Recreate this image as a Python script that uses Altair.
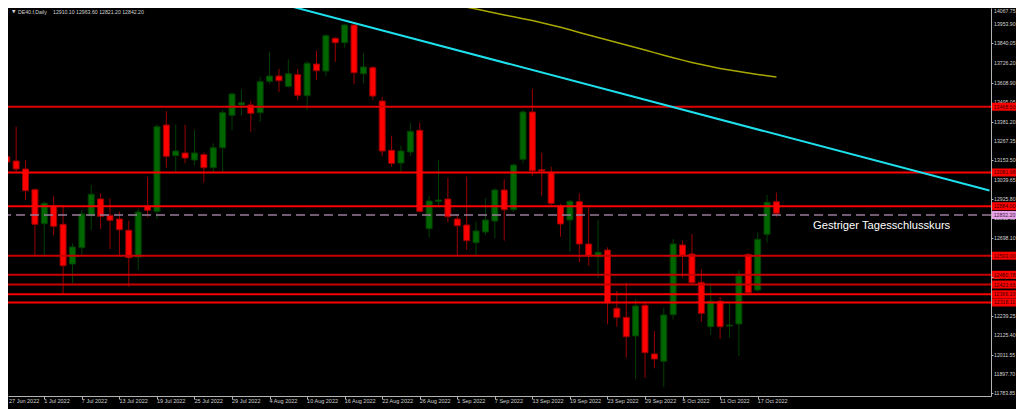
import altair as alt
import pandas as pd

# ---------------- data ----------------
date_labels = ["27 Jun 2022", "1 Jul 2022", "7 Jul 2022", "13 Jul 2022", "19 Jul 2022",
               "25 Jul 2022", "29 Jul 2022", "4 Aug 2022", "10 Aug 2022", "16 Aug 2022",
               "22 Aug 2022", "26 Aug 2022", "1 Sep 2022", "7 Sep 2022", "13 Sep 2022",
               "19 Sep 2022", "23 Sep 2022", "29 Sep 2022", "5 Oct 2022", "11 Oct 2022",
               "17 Oct 2022"]
date_label_idx = list(range(0, 81, 4))

opens = [13174.7, 13149.5, 13102.5, 12980.8, 12781.0, 12885.0, 12777.5, 12544.2, 12640.0, 12828.0,
         12926.2, 12830.4, 12808.7, 12742.3, 12585.4, 12883.3, 12853.9, 13361.0, 13180.6, 13196.5,
         13155.3, 13186.5, 13110.1, 13227.6, 13418.0, 13478.5, 13478.5, 13433.3, 13617.8, 13648.9,
         13588.4, 13656.6, 13533.2, 13719.4, 13678.3, 13870.4, 13844.6, 13948.6, 13662.4, 13697.7,
         13502.0, 13212.3, 13137.7, 13202.3, 13329.9, 12751.7, 12912.7, 12926.2, 12808.7, 12773.4,
         12669.4, 12732.3, 12796.9, 12979.1, 12863.3, 13159.5, 13437.4, 13098.4, 13080.7, 12885.0,
         12802.8, 12910.3, 12661.8, 12587.1, 12626.5, 12283.9, 12231.0, 12121.2, 12301.5, 12015.4,
         11972.5, 12246.3, 12655.9, 12603.0, 12436.7, 12175.8, 12325.1, 12179.9, 12191.7, 12601.2,
         12391.5, 12718.7, 12910.1]
highs = [13366.9, 13351.0, 13155.3, 12989.1, 12910.3, 12945.6, 12890.9, 12665.9, 12861.5, 13008.4,
         12959.7, 12930.3, 12851.5, 12798.7, 12869.2, 13055.4, 13366.9, 13443.3, 13362.8, 13362.8,
         13331.6, 13200.6, 13253.5, 13449.1, 13550.8, 13570.8, 13503.8, 13644.8, 13791.7, 13690.1,
         13747.1, 13690.1, 13737.1, 13797.6, 13894.0, 13876.3, 13954.5, 13962.1, 13782.3, 13707.7,
         13527.3, 13298.1, 13239.4, 13374.5, 13374.5, 12943.8, 13155.3, 13051.3, 12832.2, 13057.2,
         12792.8, 12930.3, 12989.1, 13041.9, 13135.9, 13449.1, 13572.5, 13198.2, 13116.0, 12896.8,
         12920.3, 12959.7, 12880.9, 12802.8, 12642.4, 12385.6, 12434.4, 12336.8, 12322.7, 12150.5,
         12287.5, 12691.1, 12681.2, 12720.5, 12514.9, 12426.7, 12350.3, 12313.3, 12509.0, 12607.1,
         12730.5, 12949.7, 12963.6]
lows = [13102.5, 13086.6, 12920.3, 12593.0, 12597.1, 12714.6, 12368.0, 12430.8, 12597.1, 12744.0,
        12749.9, 12632.4, 12597.1, 12410.9, 12509.0, 12818.6, 12808.7, 13110.1, 13086.6, 13135.9,
        13121.8, 13022.0, 13080.7, 13086.6, 13331.6, 13415.6, 13321.6, 13378.6, 13601.9, 13554.9,
        13580.2, 13507.9, 13449.1, 13625.4, 13649.0, 13731.2, 13815.2, 13601.9, 13606.0, 13507.9,
        13178.8, 13116.0, 13080.7, 13178.8, 12846.8, 12698.8, 12880.9, 12789.3, 12591.2, 12626.5,
        12591.2, 12714.6, 12695.3, 12681.2, 12851.6, 13135.9, 13063.1, 12945.6, 12890.9, 12704.6,
        12616.5, 12554.2, 12534.2, 12463.7, 12189.9, 12175.8, 11993.6, 11870.3, 11876.2, 11931.4,
        11819.7, 12219.3, 12466.1, 12420.8, 12203.4, 12127.0, 12103.5, 12111.2, 12003.6, 12362.1,
        12381.5, 12669.4, 12821.2]
closes = [13143.6, 13102.5, 12974.9, 12777.5, 12900.9, 12765.8, 12534.2, 12644.1, 12838.0, 12953.8,
          12824.5, 12801.0, 12745.8, 12581.3, 12849.8, 12859.8, 13351.0, 13177.1, 13208.2, 13167.1,
          13196.5, 13110.1, 13227.6, 13433.3, 13543.2, 13492.0, 13429.7, 13615.4, 13648.9, 13621.3,
          13662.4, 13535.5, 13723.5, 13680.1, 13885.7, 13844.6, 13948.6, 13668.3, 13701.8, 13531.4,
          13208.2, 13135.9, 13208.2, 13324.0, 12853.9, 12914.4, 12920.3, 12822.2, 12769.3, 12681.2,
          12738.1, 12802.8, 12979.1, 12863.3, 13126.0, 13437.4, 13092.5, 13090.7, 12900.9, 12779.3,
          12912.7, 12661.8, 12591.2, 12613.0, 12316.8, 12231.0, 12117.0, 12297.4, 12023.0, 11986.0,
          12244.6, 12661.8, 12595.4, 12434.4, 12254.6, 12325.1, 12175.8, 12185.8, 12475.5, 12375.6,
          12689.4, 12906.8, 12842.2]

level_prices = [13468.50, 13081.98, 12884.00, 12593.00, 12480.78, 12423.65, 12366.20, 12318.11]
level_colors = ["#e00000", "#ff0000", "#ff0000", "#c80000", "#c80000", "#c80000", "#ff0000", "#ff0000"]
prev_close = 12832.20

ma_start = 45
ma_values = [14096.7, 14084.9, 14074.9, 14064.4, 14053.2, 14042.0, 14030.3, 14019.1, 14008.0, 13996.8,
             13985.6, 13974.5, 13961.5, 13948.6, 13935.1, 13920.4, 13905.1, 13890.4, 13875.7, 13860.5,
             13845.8, 13831.1, 13816.4, 13801.7, 13786.4, 13771.1, 13756.5, 13742.3, 13728.8, 13716.5,
             13704.7, 13693.6, 13683.6, 13674.8, 13665.9, 13657.7, 13650.7, 13643.1]

trend_idx = [28.4, 104.7]
trend_price = [14085.5, 12975.8]

y_ticks = [14067.75, 13953.90, 13840.05, 13726.20, 13608.90, 13495.05, 13381.20, 13267.35,
           13153.50, 13039.65, 12925.80, 12811.95, 12698.10, 12584.25, 12470.40, 12356.55,
           12239.25, 12125.40, 12011.55, 11897.70, 11783.85]

header_symbol = "DE40.f,Daily"
header_values = "12910.10 12963.60 12821.20 12842.20"
note_text = "Gestriger Tagesschlusskurs"

# ---------------- style ----------------
UP_BODY, DN_BODY = "#006600", "#ff0000"
UP_WICK, DN_WICK = "#004000", "#9a0000"
AXIS_COL = "#b4b4b4"
LABEL_COL = "#d2d2d2"
FONT = "Liberation Sans"
Y_TOP, Y_BOTTOM = 14048.5, 11768.6

candles = pd.DataFrame({"i": list(range(len(opens))), "open": opens, "high": highs,
                        "low": lows, "close": closes})
candles["dir"] = ["up" if c >= o else "down" for o, c in zip(opens, closes)]

levels = pd.DataFrame({"price": level_prices, "col": level_colors,
                       "label": [f"{p:.2f}" for p in level_prices]})
prev_df = pd.DataFrame({"price": [prev_close], "label": [f"{prev_close:.2f}"]})
ma_df = pd.DataFrame({"i": list(range(ma_start, ma_start + len(ma_values))), "p": ma_values})
trend_df = pd.DataFrame({"i": trend_idx, "p": trend_price})
xlab_df = pd.DataFrame({"i": date_label_idx[1:], "lab": date_labels[1:]})
ylab_df = pd.DataFrame({"p": y_ticks, "lab": [f"{v:.2f}" for v in y_ticks]})

xs = alt.Scale(domain=[0.664, 104.33], nice=False, zero=False)
ys = alt.Scale(domain=[Y_BOTTOM, Y_TOP], nice=False, zero=False)

x_axis = alt.Axis(values=date_label_idx, orient="bottom", title=None, grid=False,
                  domain=True, ticks=True, labels=False,
                  domainColor=AXIS_COL, tickColor=AXIS_COL, tickSize=3, zindex=1)
y_axis = alt.Axis(values=y_ticks, orient="right", title=None, grid=False,
                  domain=True, ticks=True, labels=False,
                  domainColor=AXIS_COL, tickColor=AXIS_COL, tickSize=2, zindex=1)

wick = alt.Chart(candles).mark_rule(strokeWidth=1, clip=True).encode(
    x=alt.X("i:Q", scale=xs, axis=x_axis),
    y=alt.Y("low:Q", scale=ys, axis=y_axis),
    y2="high:Q",
    color=alt.Color("dir:N", scale=alt.Scale(domain=["up", "down"], range=[UP_WICK, DN_WICK]), legend=None),
)
body = alt.Chart(candles).mark_bar(size=6, strokeWidth=1, clip=True).encode(
    x=alt.X("i:Q"),
    y=alt.Y("open:Q"),
    y2="close:Q",
    fill=alt.Fill("dir:N", scale=alt.Scale(domain=["up", "down"], range=[UP_BODY, DN_BODY]), legend=None),
    stroke=alt.Stroke("dir:N", scale=alt.Scale(domain=["up", "down"], range=[UP_WICK, DN_WICK]), legend=None),
)

lines = alt.Chart(levels).mark_rule(strokeWidth=2).encode(
    y=alt.Y("price:Q"),
    color=alt.Color("col:N", scale=None),
)
dashed = alt.Chart(prev_df).mark_rule(strokeWidth=1.5, strokeDash=[9, 5], color="#9a7a9a").encode(
    y=alt.Y("price:Q"),
)

trend = alt.Chart(trend_df).mark_line(clip=True, strokeWidth=2, color="#1ee0ec").encode(
    x=alt.X("i:Q"), y=alt.Y("p:Q"))
ma = alt.Chart(ma_df).mark_line(clip=True, strokeWidth=1.5, color="#a8a800").encode(
    x=alt.X("i:Q"), y=alt.Y("p:Q"))

# axis labels as text marks (positioned through the shared scales)
xlabels = alt.Chart(xlab_df).mark_text(font=FONT, fontSize=5.5, align="left", baseline="top",
                                       color=LABEL_COL).encode(
    x=alt.X("i:Q"), y=alt.value(391), text="lab:N")
xlabel0 = alt.Chart(pd.DataFrame({"lab": [date_labels[0]]})).mark_text(
    font=FONT, fontSize=5.5, align="left", baseline="top", color=LABEL_COL).encode(
    x=alt.value(1), y=alt.value(391), text="lab:N")
# the topmost label sits above the visible page area; keep it just inside the chart
ylabels = alt.Chart(ylab_df).transform_calculate(
    pl=f"min(datum.p, {Y_TOP - 17})"
).mark_text(font=FONT, fontSize=5.2, align="left", baseline="middle",
            color=LABEL_COL).encode(
    y=alt.Y("pl:Q"), x=alt.value(986), text="lab:N")

boxes = alt.Chart(levels).mark_rule(strokeWidth=8).encode(
    y=alt.Y("price:Q"),
    x=alt.value(984), x2=alt.value(1008),
    color=alt.value("#ff0000"),
)
box_text = alt.Chart(levels).mark_text(font=FONT, fontSize=5.2, align="center", baseline="middle",
                                       color="#3a0000").encode(
    y=alt.Y("price:Q"), x=alt.value(996.5), text="label:N")
pbox = alt.Chart(prev_df).mark_rule(strokeWidth=8).encode(
    y=alt.Y("price:Q"),
    x=alt.value(984), x2=alt.value(1008),
    color=alt.value("#e6a0e6"),
)
pbox_text = alt.Chart(prev_df).mark_text(font=FONT, fontSize=5.2, align="center", baseline="middle",
                                         color="#402040").encode(
    y=alt.Y("price:Q"), x=alt.value(996.5), text="label:N")

note = alt.Chart(pd.DataFrame({"t": [note_text]})).mark_text(
    font=FONT, fontSize=11.2, align="left", baseline="middle", color="#ffffff").encode(
    x=alt.value(805), y=alt.value(218), text="t:N")

hdr_tri = alt.Chart(pd.DataFrame({"t": ["\u25bc"]})).mark_text(
    font="DejaVu Sans", fontSize=4.5, align="left", baseline="middle", color=LABEL_COL).encode(
    x=alt.value(4), y=alt.value(4), text="t:N")
hdr_sym = alt.Chart(pd.DataFrame({"t": [header_symbol]})).mark_text(
    font=FONT, fontSize=5.2, align="left", baseline="middle", color=LABEL_COL).encode(
    x=alt.value(10), y=alt.value(4), text="t:N")
hdr_val = alt.Chart(pd.DataFrame({"t": [header_values]})).mark_text(
    font=FONT, fontSize=5.2, align="left", baseline="middle", color=LABEL_COL).encode(
    x=alt.value(45), y=alt.value(4), text="t:N")

chart = alt.layer(wick, body, lines, dashed, trend, ma, xlabels, xlabel0, ylabels,
                  boxes, box_text, pbox, pbox_text,
                  note, hdr_tri, hdr_sym, hdr_val).properties(
    width=983, height=388,
    autosize=alt.AutoSizeParams(type="none"),
    padding={"left": 0, "top": 0, "right": 25, "bottom": 13},
    background="#000000",
).configure_view(stroke=None)

chart.save("out.html", embed_options={"renderer": "svg", "actions": False})
